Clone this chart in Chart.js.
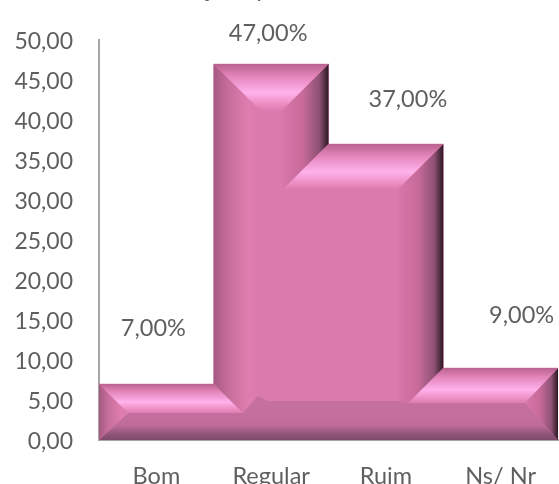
<!DOCTYPE html>
<html><head><meta charset="utf-8">
<style>html,body{margin:0;padding:0;background:#fff;overflow:hidden}#w{width:559px;height:484px;position:relative}</style>
<script src="https://cdn.jsdelivr.net/npm/chart.js@4"></script></head>
<body><div id="w"><canvas id="c" width="559" height="484"></canvas></div>
<script>
const categories=["Bom","Regular","Ruim","Ns/ Nr"];
const values=[7,47,37,9];
const valueLabels=["7,00%","47,00%","37,00%","9,00%"];
const tickStep=5, tickMax=50;
const topDepth=[29,46,45,35];
const labelShift=[[-3,-56],[-3,-31],[22,-45],[21,-53]];
const FONT="Lato";
const TEXT="#5f5f5f";
function poly(ctx,pts,fill){ctx.beginPath();pts.forEach((p,i)=>i?ctx.lineTo(p[0],p[1]):ctx.moveTo(p[0],p[1]));ctx.closePath();ctx.fillStyle=fill;ctx.fill();}
function grad(ctx,x0,y0,x1,y1,stops){const g=ctx.createLinearGradient(x0,y0,x1,y1);stops.forEach(s=>g.addColorStop(s[0],s[1]));return g;}
const topStops=[[0,"#B9628F"],[.25,"#E283B8"],[.62,"#FFB2EC"],[.85,"#EE90C6"],[1,"#DD7DB0"]];
const rightStops=[[0,"#D679AA"],[.45,"#C76A9A"],[.8,"#8E5174"],[1,"#2A1822"]];
const leftStops=[[0,"#A55A80"],[.3,"#C46D9A"],[.75,"#DF7DAF"],[1,"#DB7AAD"]];
const bevel={id:"bevel",afterDatasetsDraw(chart){
  const ctx=chart.ctx,b=chart.getDatasetMeta(0).data;
  const e=[b[0].x-b[0].width/2,b[1].x-b[1].width/2,b[2].x-b[2].width/2,b[3].x-b[3].width/2,b[3].x+b[3].width/2];
  const t=b.map(r=>r.y),B=b[0].base,d=topDepth;
  ctx.save();
  const inB0=t[0]+d[0],inB3=t[3]+d[3];
  const innerL=e[1]+d[1],innerR=e[3]-d[2];
  const flat=inB3-2;
  poly(ctx,[[e[1],t[1]],[e[2],t[1]],[e[2],t[2]],[e[3],t[2]],[e[3],t[3]],[e[4],t[3]],[e[4],B],[e[0],B],[e[0],t[0]],[e[1],t[0]]],"#DA7AAD");
  poly(ctx,[[e[1],t[1]],[innerL,t[1]+d[1]],[innerL,flat-5],[e[1]+d[0],inB0],[e[1],t[0]]],grad(ctx,e[1],0,innerL,0,leftStops));
  poly(ctx,[[e[2],t[1]],[e[2]-d[1],t[1]+d[1]],[e[2]-d[1],t[2]+d[2]],[e[2],t[2]]],grad(ctx,e[2]-d[1],0,e[2],0,rightStops));
  poly(ctx,[[e[3],t[2]],[innerR,t[2]+d[2]],[innerR,flat],[e[3]-d[3],inB3],[e[3],t[3]]],grad(ctx,innerR,0,e[3],0,rightStops));
  poly(ctx,[[e[0],B],[e[0]+d[0],inB0],[e[1]+d[0],inB0],[innerL-2,flat-5],[innerL+8,flat],[innerR,flat],[e[3]-d[3],inB3],[e[4]-33,inB3],[e[4],B]],
    grad(ctx,0,inB3,0,B,[[0,"#C6709F"],[.6,"#C06C9A"],[.85,"#8F5578"],[1,"#7C4A68"]]));
  poly(ctx,[[e[0],t[0]],[e[0]+d[0],inB0],[e[0],B]],grad(ctx,e[0],0,e[0]+d[0],0,leftStops));
  poly(ctx,[[e[4],t[3]],[e[4]-33,inB3],[e[4],B]],grad(ctx,e[4]-33,0,e[4],0,rightStops));
  poly(ctx,[[e[0],t[0]],[e[1],t[0]],[e[1]+d[0],inB0],[e[0]+d[0],inB0]],grad(ctx,0,t[0],0,inB0,topStops));
  poly(ctx,[[e[1],t[1]],[e[2],t[1]],[e[2]-d[1],t[1]+d[1]],[innerL,t[1]+d[1]]],grad(ctx,0,t[1],0,t[1]+d[1],topStops));
  poly(ctx,[[e[2],t[2]],[e[3],t[2]],[innerR,t[2]+d[2]],[e[2]-d[2],t[2]+d[2]]],grad(ctx,0,t[2],0,t[2]+d[2],topStops));
  poly(ctx,[[e[3],t[3]],[e[4],t[3]],[e[4]-33,inB3],[e[3]-d[3],inB3]],grad(ctx,0,t[3],0,inB3,topStops));
  ctx.fillStyle=TEXT;ctx.font="23.5px "+FONT;ctx.textAlign="center";ctx.textBaseline="middle";
  b.forEach((r,i)=>ctx.fillText(valueLabels[i],r.x+labelShift[i][0],r.y+labelShift[i][1]));
  // the clipped title's only visible remains at the top edge
  ctx.font="23px "+FONT;ctx.textBaseline="alphabetic";
  ctx.fillText("j",209,-3);ctx.fillText("p",263,-3);
  ctx.restore();
}};
new Chart(document.getElementById("c"),{type:"bar",
 data:{labels:categories,datasets:[{data:values,backgroundColor:"#DA7AAD",barPercentage:1,categoryPercentage:1,borderWidth:0}]},
 plugins:[bevel],
 options:{responsive:false,animation:false,
  layout:{padding:{top:40,right:1,bottom:0,left:0}},
  plugins:{legend:{display:false},tooltip:{enabled:false},title:{display:false}},
  scales:{
   y:{min:0,max:tickMax,afterFit(s){s.width=99;},
      ticks:{stepSize:tickStep,padding:26,labelOffset:2,color:TEXT,font:{family:FONT,size:23},callback:v=>v.toFixed(2).replace(".",",")},
      grid:{display:false,drawTicks:false},border:{display:true,color:"#A6A6A6",width:2}},
   x:{afterFit(s){s.height=44;},
      ticks:{padding:22,color:TEXT,font:{family:FONT,size:23.5},maxRotation:0},
      grid:{display:false,drawTicks:false},border:{display:true,color:"#A6A6A6",width:2}}
  }}});
</script></body></html>
